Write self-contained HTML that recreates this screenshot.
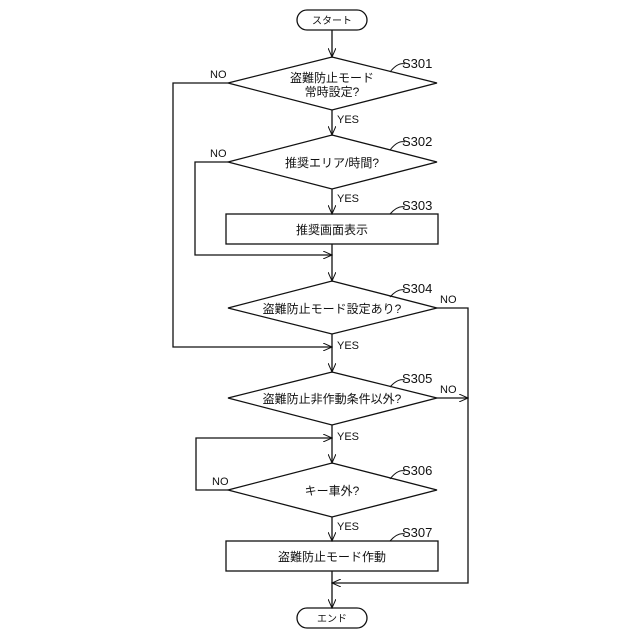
<!DOCTYPE html>
<html><head><meta charset="utf-8"><style>
html,body{margin:0;padding:0;background:#fff;}
svg{display:block;}
text{font-family:"Liberation Sans","Noto Sans CJK JP",sans-serif;fill:#111;}
</style></head><body>
<svg width="640" height="640" viewBox="0 0 640 640">
<defs><marker id="a" markerWidth="10" markerHeight="8" refX="9" refY="4" orient="auto" markerUnits="userSpaceOnUse"><path d="M0,0 L9,4 L0,8" fill="none" stroke="#111" stroke-width="1"/></marker></defs>
<g fill="none" stroke="#111" stroke-width="1.3">
<rect x="297" y="10" width="70" height="20" rx="10"/>
<rect x="297" y="608" width="70" height="20" rx="10"/>
<polygon points="332,57 437,83 332,110 228,83"/>
<polygon points="332,135 437,162 332,189 228,162"/>
<rect x="226" y="214" width="212" height="30"/>
<polygon points="332,281 437,308 332,334 228,308"/>
<polygon points="332,372 437,398 332,425 228,398"/>
<polygon points="332,463 437,490 332,517 228,490"/>
<rect x="226" y="541" width="212" height="30"/>
<line x1="332" y1="30" x2="332" y2="57" marker-end="url(#a)"/>
<line x1="332" y1="110" x2="332" y2="135" marker-end="url(#a)"/>
<line x1="332" y1="189" x2="332" y2="214" marker-end="url(#a)"/>
<line x1="332" y1="244" x2="332" y2="281" marker-end="url(#a)"/>
<line x1="332" y1="334" x2="332" y2="372" marker-end="url(#a)"/>
<line x1="332" y1="425" x2="332" y2="463" marker-end="url(#a)"/>
<line x1="332" y1="517" x2="332" y2="541" marker-end="url(#a)"/>
<line x1="332" y1="571" x2="332" y2="608" marker-end="url(#a)"/>
<polyline points="228,83 173,83 173,347 332,347" marker-end="url(#a)"/>
<polyline points="228,162 195,162 195,255 332,255" marker-end="url(#a)"/>
<polyline points="437,308 468,308 468,583 332,583" marker-end="url(#a)"/>
<line x1="437" y1="398" x2="468" y2="398" marker-end="url(#a)"/>
<polyline points="228,490 196,490 196,438 332,438" marker-end="url(#a)"/>
<path d="M390,72 Q398,62 405,64" stroke-width="1"/>
<path d="M390,150 Q398,140 405,142" stroke-width="1"/>
<path d="M390,214 Q398,205 405,207" stroke-width="1"/>
<path d="M390,297 Q398,288 405,290" stroke-width="1"/>
<path d="M390,387 Q398,378 405,380" stroke-width="1"/>
<path d="M390,479 Q398,469 405,471" stroke-width="1"/>
<path d="M390,541 Q398,532 405,534" stroke-width="1"/>
</g>
<g font-size="12" text-anchor="middle">
<text x="332" y="24" font-size="10">スタート</text>
<text x="332" y="622" font-size="10">エンド</text>
<text x="332" y="82">盗難防止モード</text>
<text x="332" y="96">常時設定?</text>
<text x="332" y="167">推奨エリア/時間?</text>
<text x="332" y="234">推奨画面表示</text>
<text x="332" y="313">盗難防止モード設定あり?</text>
<text x="332" y="403">盗難防止非作動条件以外?</text>
<text x="332" y="495">キー車外?</text>
<text x="332" y="561">盗難防止モード作動</text>
</g>
<g font-size="11">
<text x="210" y="78">NO</text><text x="210" y="157">NO</text>
<text x="440" y="303">NO</text><text x="440" y="393">NO</text>
<text x="212" y="485">NO</text>
<text x="337" y="123">YES</text><text x="337" y="202">YES</text>
<text x="337" y="349">YES</text><text x="337" y="440">YES</text>
<text x="337" y="530">YES</text>
</g>
<g font-size="13">
<text x="402" y="68">S301</text><text x="402" y="146">S302</text>
<text x="402" y="210">S303</text><text x="402" y="293">S304</text>
<text x="402" y="383">S305</text><text x="402" y="475">S306</text>
<text x="402" y="537">S307</text>
</g>
</svg>
</body></html>
